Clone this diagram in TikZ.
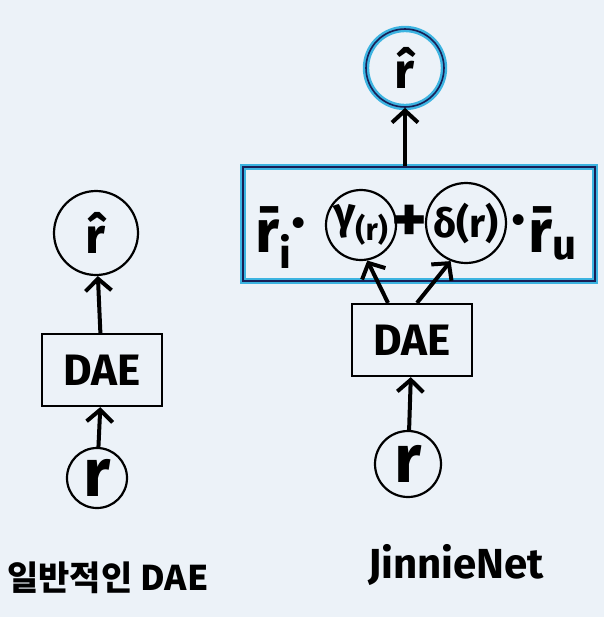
\documentclass[tikz,border=0pt]{standalone}
\usepackage{fontspec}
\setmainfont{Fira Sans}
\newfontfamily\kofont{Noto Sans CJK KR}
\usetikzlibrary{arrows.meta}
\definecolor{paper}{RGB}{236,242,248}
\definecolor{marker}{RGB}{60,180,225}
\definecolor{pen}{RGB}{25,30,85}
\newcommand\fs[1]{\fontsize{#1}{#1}\selectfont}
\begin{document}
\begin{tikzpicture}[x=0.5pt,y=-0.5pt,
    ink/.style={draw=black,line width=1.1pt},
    bubble/.style={ink,circle,inner sep=-2pt},
    daebox/.style={ink,minimum width=60pt,minimum height=36pt,font=\bfseries\fs{22}},
    up/.style={line width=2pt,-{Straight Barb[length=6pt,width=13pt,line width=2pt]}},
    hl/.style={draw=pen,line width=0.8pt,preaction={draw=marker,line width=3.2pt}},
    big/.style={font=\bfseries\fs{34}},
    term/.style={font=\bfseries\fs{30},anchor=base,inner sep=0pt}]
  \useasboundingbox[fill=paper] (0,0) rectangle (604,617);
  % plain DAE
  \node[bubble,minimum size=42pt,font=\bfseries\fs{25}] (hatL) at (96,233) {\^{r}};
  \node[daebox] (daeL) at (102,370) {DAE};
  \node[bubble,minimum size=30pt,big] (rL) at (97,478) {r};
  \draw[up] (rL) -- (daeL);
  \draw[up] (daeL) -- (hatL);
  \node[font=\kofont\bfseries\fs{17}] (capL) at (108,578) {일반적인 DAE};
  % JinnieNet
  \node[bubble,hl,minimum size=39pt,font=\bfseries\fs{25}] (hatR) at (405,68) {\^{r}};
  \node[hl,minimum width=176pt,minimum height=57pt] (eq) at (419,224) {};
  \node[term] (ri) at (274,252) {\={r}\textsubscript{i}};
  \node[term] (d1) at (299,241) {\smash{·}};
  \node[bubble,minimum size=35pt,font=\bfseries\fs{22}] (gam) at (361,225) {γ\textsubscript{(r)}};
  \node[big] (plus) at (410,224) {+};
  \node[bubble,minimum size=40pt,font=\bfseries\fs{20}] (del) at (466,223) {δ(r)};
  \node[term] (d2) at (519,238) {\smash{·}};
  \node[term] (ru) at (553,252) {\={r}\textsubscript{u}};
  \node[daebox] (daeR) at (412,340) {DAE};
  \node[bubble,minimum size=33pt,big] (rR) at (408,464) {r};
  \draw[up] (rR) -- (daeR);
  \draw[up] ([xshift=-12pt]daeR.north) -- (gam.-80);
  \draw[up] ([xshift=2.5pt]daeR.north) -- (del.-112);
  \draw[up] (eq.north -| hatR) -- (hatR);
  \node[font=\bfseries\fs{21}] (capR) at (456,565) {JinnieNet};
\end{tikzpicture}
\end{document}
